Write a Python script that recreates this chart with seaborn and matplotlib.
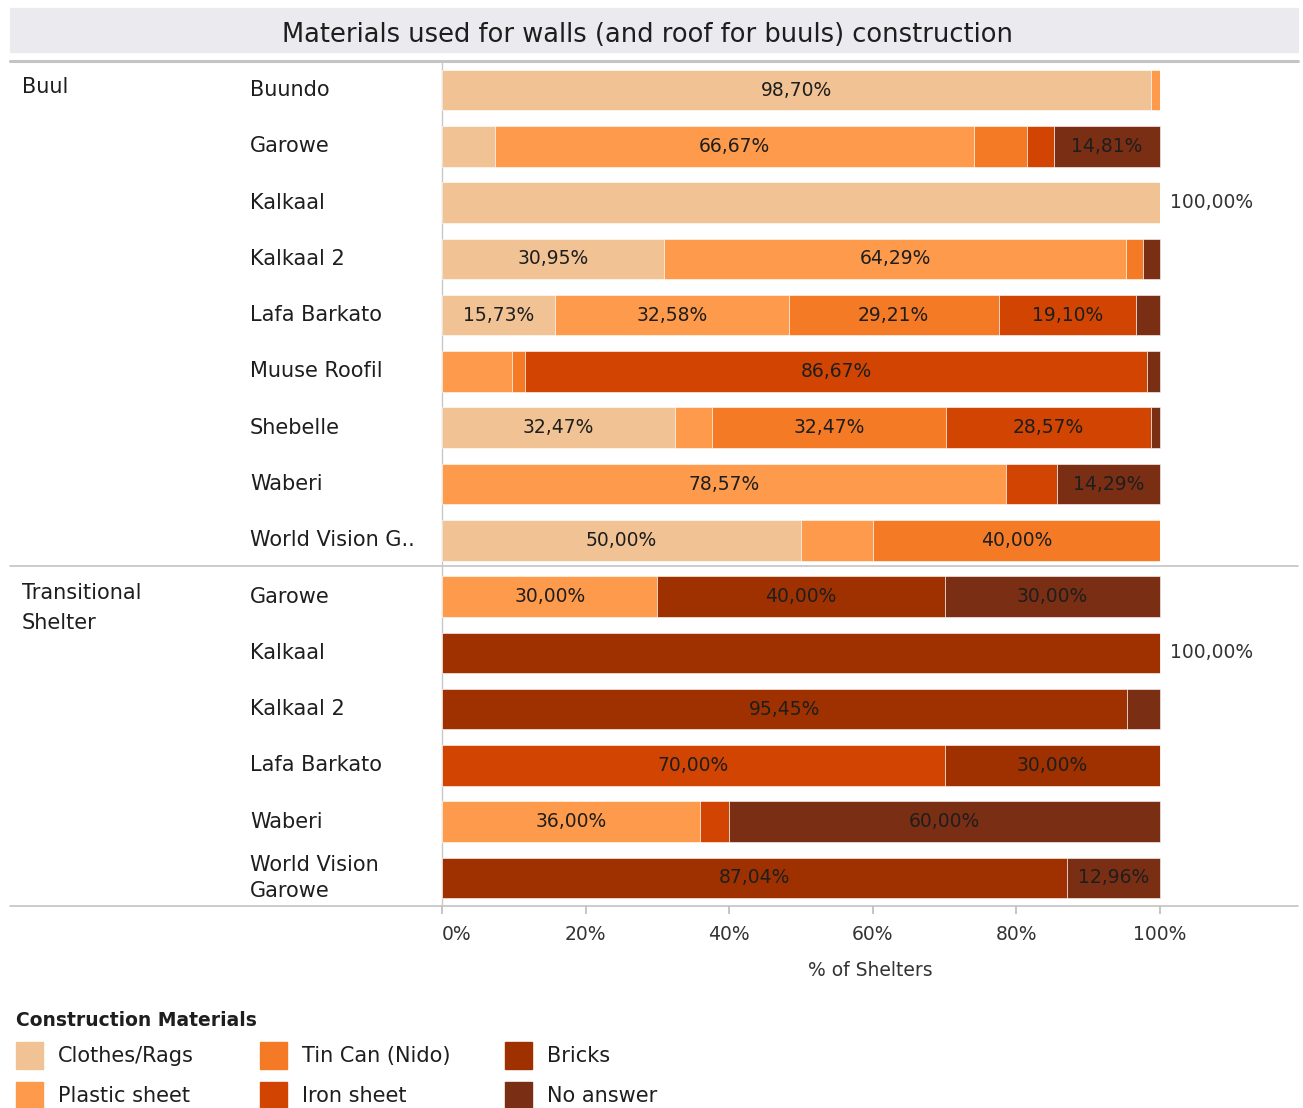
import numpy as np
import pandas as pd
import matplotlib.pyplot as plt
import seaborn as sns
from matplotlib.patches import Rectangle
from matplotlib.transforms import blended_transform_factory

# Data (% of shelters)
groups = ["Buul", "Transitional\nShelter"]
group_first_row = [0, 9]
sites = ["Buundo", "Garowe", "Kalkaal", "Kalkaal 2", "Lafa Barkato", "Muuse Roofil",
         "Shebelle", "Waberi", "World Vision G..",
         "Garowe", "Kalkaal", "Kalkaal 2", "Lafa Barkato", "Waberi", "World Vision\nGarowe"]
materials = ["Clothes/Rags", "Plastic sheet", "Tin Can (Nido)", "Iron sheet", "Bricks", "No answer"]

clothes = [98.70, 7.41, 100.00, 30.95, 15.73, 0, 32.47, 0, 50.00, 0, 0, 0, 0, 0, 0]
plastic = [1.30, 66.67, 0, 64.29, 32.58, 9.80, 5.19, 78.57, 10.00, 30.00, 0, 0, 0, 36.00, 0]
tin_can = [0, 7.41, 0, 2.38, 29.21, 1.73, 32.47, 0, 40.00, 0, 0, 0, 0, 0, 0]
iron = [0, 3.70, 0, 0, 19.10, 86.67, 28.57, 7.14, 0, 0, 0, 0, 70.00, 4.00, 0]
bricks = [0, 0, 0, 0, 0, 0, 0, 0, 0, 40.00, 100.00, 95.45, 30.00, 0, 87.04]
no_answer = [0, 14.81, 0, 2.38, 3.37, 1.80, 1.30, 14.29, 0, 30.00, 0, 4.55, 0, 60.00, 12.96]
xticks = [0, 20, 40, 60, 80, 100]

colors = ["#F0C294", "#FD9A4B", "#F57A26", "#D14401", "#9F3100", "#7A2E13"]

df = pd.DataFrame({"site": sites, "Clothes/Rags": clothes, "Plastic sheet": plastic,
                   "Tin Can (Nido)": tin_can, "Iron sheet": iron, "Bricks": bricks,
                   "No answer": no_answer})

sns.set_theme(style="white")
plt.rcParams['font.family'] = ['DejaVu Sans']
text_color = "#1E1E1E"
line_color = "#C8C8C8"

W, H = 1303, 1108
fig = plt.figure(figsize=(W / 100, H / 100), dpi=100)

# overlay in pixel coordinates for the table-like decorations
over = fig.add_axes([0, 0, 1, 1], zorder=0)
over.set_xlim(0, W)
over.set_ylim(H, 0)
over.axis("off")

ax_left, ax_right, ax_top, ax_bottom = 442, 1298, 62, 906
ax = fig.add_axes([ax_left / W, 1 - ax_bottom / H, (ax_right - ax_left) / W,
                   (ax_bottom - ax_top) / H], zorder=1)
ax.set_facecolor("none")
px_per_pct = 7.18
ax.set_xlim(0, (ax_right - ax_left) / px_per_pct)
ax.set_ylim(len(sites), 0)

y = np.arange(len(sites)) + 0.5
left = np.zeros(len(sites))
for mat, col in zip(materials, colors):
    vals = df[mat].to_numpy()
    ax.barh(y, vals, left=left, height=0.72, color=col, edgecolor="#FFFFFF",
            linewidth=0.4)
    for yi, l, v in zip(y, left, vals):
        if v >= 99.99:
            ax.text(101.4, yi, f"{v:.2f}".replace(".", ",") + "%", ha="left",
                    va="center", fontsize=13.5, color="#333333")
        elif v >= 11:
            ax.text(l + v / 2, yi, f"{v:.2f}".replace(".", ",") + "%", ha="center",
                    va="center", fontsize=13.5, color=text_color)
    left += vals

for s in ax.spines.values():
    s.set_visible(False)
ax.set_yticks([])
ax.set_xticks(xticks)
ax.set_xticklabels([f"{t}%" for t in xticks])
ax.tick_params(axis="x", length=0, labelsize=13.5, labelcolor="#333333", pad=14)
ax.get_xticklabels()[0].set_horizontalalignment("left")
ax.set_xlabel("% of Shelters", fontsize=13.5, color="#333333", labelpad=12)
# short tick marks below the bottom rule
tick_tr = blended_transform_factory(ax.transData, ax.transAxes)
ax.vlines(xticks, -0.009, 0, transform=tick_tr, color="#BBBBBB", lw=1.2, clip_on=False)

# row and group labels
trans = blended_transform_factory(over.transData, ax.transData)
for yi, name in zip(y, sites):
    ax.text(250, yi, name, transform=trans, ha="left", va="center", fontsize=15,
            color=text_color, linespacing=1.4)
for g, r in zip(groups, group_first_row):
    ax.text(22, r + 0.5 - 0.24, g, transform=trans, ha="left", va="top", fontsize=15,
            color=text_color, linespacing=1.6)

# title band and rules
over.add_patch(Rectangle((10, 8), 1288, 44, color="#EBEBEF", zorder=0))
over.text(648, 35, "Materials used for walls (and roof for buuls) construction",
          ha="center", va="center", fontsize=18.5, color=text_color)
over.plot([10, 1298], [61, 61], color="#C4C4C4", lw=2.2)
over.plot([10, 1298], [566, 566], color=line_color, lw=1.3)
over.plot([10, 1298], [906, 906], color=line_color, lw=1.3)
over.plot([442, 442], [62, 906], color=line_color, lw=1.0)

# legend
over.text(16, 1021, "Construction Materials", ha="left", va="center", fontsize=13.5,
          fontweight="bold", color=text_color)
leg_x = [16, 16, 260, 260, 505, 505]
leg_y = [1042, 1082, 1042, 1082, 1042, 1082]
for mat, col, lx, ly in zip(materials, colors, leg_x, leg_y):
    over.add_patch(Rectangle((lx, ly), 27, 27, color=col))
    over.text(lx + 42, ly + 14, mat, ha="left", va="center", fontsize=15,
              color=text_color)

fig.savefig("out.png", dpi=100)
